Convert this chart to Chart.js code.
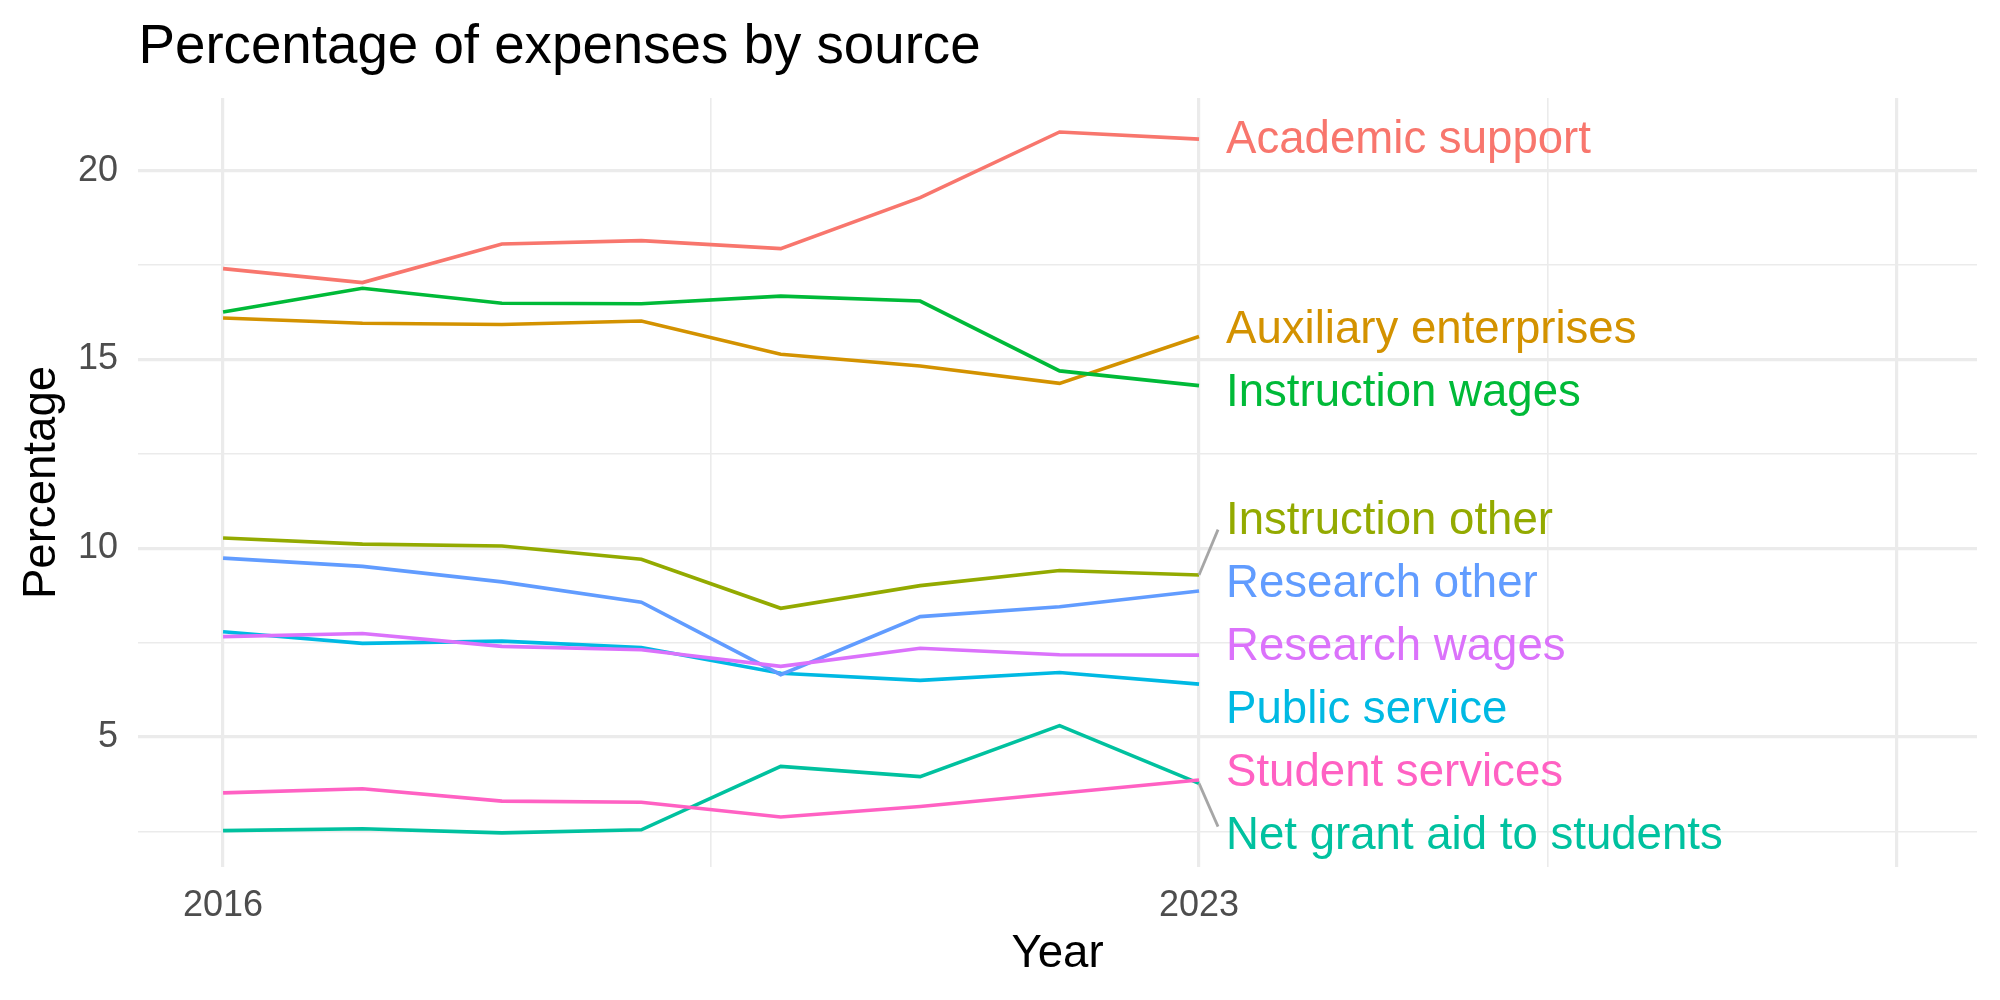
<!DOCTYPE html>
<html>
<head>
<meta charset="utf-8">
<title>Percentage of expenses by source</title>
<script src="https://cdn.jsdelivr.net/npm/chart.js@4.4.1/dist/chart.umd.min.js"></script>
<style>
  html, body { margin: 0; padding: 0; background: #ffffff; }
  #wrap { width: 2000px; height: 1000px; }
</style>
</head>
<body>
<div id="wrap"><canvas id="expenseChart" width="2000" height="1000"></canvas></div>
<script>
// Data
const years = [2016, 2017, 2018, 2019, 2020, 2021, 2022, 2023];

const categories = [
    'Academic support',
    'Auxiliary enterprises',
    'Instruction other',
    'Instruction wages',
    'Net grant aid to students',
    'Public service',
    'Research other',
    'Research wages',
    'Student services'
];

const academicSupport      = [17.41, 17.04, 18.06, 18.15, 17.94, 19.29, 21.03, 20.84];
const auxiliaryEnterprises = [16.10, 15.96, 15.93, 16.02, 15.14, 14.83, 14.37, 15.61];
const instructionOther     = [10.27, 10.11, 10.06, 9.71, 8.41, 9.01, 9.41, 9.29];
const instructionWages     = [16.26, 16.89, 16.49, 16.48, 16.68, 16.55, 14.70, 14.31];
const netGrantAid          = [2.52, 2.57, 2.46, 2.54, 4.22, 3.95, 5.30, 3.77];
const publicService        = [7.79, 7.48, 7.54, 7.37, 6.69, 6.50, 6.71, 6.40];
const researchOther        = [9.74, 9.52, 9.11, 8.57, 6.65, 8.19, 8.45, 8.87];
const researchWages        = [7.66, 7.74, 7.40, 7.31, 6.87, 7.35, 7.18, 7.17];
const studentServices      = [3.52, 3.63, 3.30, 3.27, 2.88, 3.16, 3.51, 3.86];

// Axis breaks (major + minor) and their tick labels
const xTickValues = [2016, 2019.5, 2023, 2025.5, 2028];
const xTickLabels = ['2016', '', '2023', '', ''];
const xMajorTicks = [2016, 2023, 2028];
const yTickValues = [2.5, 5, 7.5, 10, 12.5, 15, 17.5, 20];
const yTickLabels = ['', '5', '', '10', '', '15', '', '20'];

// ggplot default hue palette, in category order
const palette = ['#F8766D', '#D39200', '#93AA00', '#00BA38', '#00C19F',
                 '#00B9E3', '#619CFF', '#DB72FB', '#FF61C3'];

const seriesValues = [academicSupport, auxiliaryEnterprises, instructionOther,
    instructionWages, netGrantAid, publicService, researchOther,
    researchWages, studentServices];

const FONT = '"Liberation Sans", Arial, Helvetica, sans-serif';
const GRID = '#EBEBEB';
const LABEL_GAP = 63;     // min vertical distance between end labels (px)
const LABEL_OFFSET = 27;  // px from last point to label text

Chart.defaults.font.family = FONT;

// Push overlapping end labels apart, keeping each group centred on its points
function spreadLabels(targets, gap) {
    const order = targets.map((y, i) => i).sort((a, b) => targets[a] - targets[b]);
    let groups = order.map(i => ({ members: [i] }));
    const place = g => {
        const mean = g.members.reduce((s, i) => s + targets[i], 0) / g.members.length;
        g.start = mean - (g.members.length - 1) * gap / 2;
        g.end = g.start + (g.members.length - 1) * gap;
    };
    groups.forEach(place);
    let merged = true;
    while (merged) {
        merged = false;
        for (let k = 0; k < groups.length - 1; k++) {
            if (groups[k].end + gap > groups[k + 1].start) {
                groups[k].members = groups[k].members.concat(groups[k + 1].members);
                groups.splice(k + 1, 1);
                place(groups[k]);
                merged = true;
                break;
            }
        }
    }
    const result = new Array(targets.length);
    groups.forEach(g => g.members.forEach((i, k) => { result[i] = g.start + k * gap; }));
    return result;
}

// Draws the title, axis titles and the direct labels at the line ends
const annotations = {
    id: 'annotations',
    afterDatasetsDraw(chart) {
        const ctx = chart.ctx;
        const area = chart.chartArea;
        const xScale = chart.scales.x;
        const yScale = chart.scales.y;

        const lastX = xScale.getPixelForValue(years[years.length - 1]);
        const endY = chart.data.datasets.map(ds => yScale.getPixelForValue(ds.data[ds.data.length - 1].y));
        const labelY = spreadLabels(endY, LABEL_GAP);
        const textX = lastX + LABEL_OFFSET;

        ctx.save();
        // connector segments for labels pushed away from their point
        ctx.strokeStyle = '#A6A6A6';
        ctx.lineWidth = 2.8;
        endY.forEach((y, i) => {
            const d = labelY[i] - y;
            if (Math.abs(d) > 30) {
                ctx.beginPath();
                ctx.moveTo(lastX, y);
                ctx.lineTo(textX - 8, labelY[i] - Math.sign(d) * 9);
                ctx.stroke();
            }
        });

        ctx.font = '45.6px ' + FONT;
        ctx.textAlign = 'left';
        ctx.textBaseline = 'middle';
        chart.data.datasets.forEach((ds, i) => {
            ctx.fillStyle = ds.borderColor;
            ctx.fillText(ds.label, textX, labelY[i] + 1);
        });

        // plot title
        ctx.fillStyle = '#000000';
        ctx.textBaseline = 'alphabetic';
        ctx.font = '54.7px ' + FONT;
        ctx.fillText('Percentage of expenses by source', area.left + 0.5, 62.7);

        // axis titles
        ctx.font = '45.6px ' + FONT;
        ctx.textAlign = 'center';
        ctx.fillText('Year', (area.left + area.right) / 2, 967);

        ctx.translate(55, (area.top + area.bottom) / 2);
        ctx.rotate(-Math.PI / 2);
        ctx.fillText('Percentage', 0, 0);
        ctx.restore();
    }
};

const datasets = categories.map((name, i) => ({
    label: name,
    data: years.map((yr, j) => ({ x: yr, y: seriesValues[i][j] })),
    borderColor: palette[i],
    backgroundColor: palette[i],
    borderWidth: 3.6,
    pointRadius: 0,
    tension: 0,
    fill: false,
    order: -i
}));

const config = {
    type: 'line',
    data: { datasets: datasets },
    options: {
        responsive: false,
        animation: false,
        devicePixelRatio: 1,
        layout: {
            padding: { top: 98, right: 23, bottom: 0, left: 0 }
        },
        plugins: {
            legend: { display: false },
            title: { display: false },
            tooltip: { enabled: false }
        },
        scales: {
            x: {
                type: 'linear',
                min: 2015.39,
                max: 2028.58,
                afterBuildTicks: (scale) => {
                    scale.ticks = xTickValues.map(v => ({ value: v }));
                },
                afterFit: (scale) => { scale.height = 133; },
                border: { display: false },
                grid: {
                    color: GRID,
                    drawTicks: false,
                    lineWidth: (c) => (c.tick && xMajorTicks.includes(c.tick.value)) ? 3.2 : 1.6
                },
                ticks: {
                    autoSkip: false,
                    maxRotation: 0,
                    padding: 17,
                    color: '#4D4D4D',
                    font: { size: 36 },
                    callback: (value) => xTickLabels[xTickValues.indexOf(value)]
                }
            },
            y: {
                min: 1.555,
                max: 21.93,
                afterBuildTicks: (scale) => {
                    scale.ticks = yTickValues.map(v => ({ value: v }));
                },
                afterFit: (scale) => { scale.width = 138; },
                border: { display: false },
                grid: {
                    color: GRID,
                    drawTicks: false,
                    lineWidth: (c) => (c.tick && c.tick.value % 5 === 0) ? 3.2 : 1.6
                },
                ticks: {
                    autoSkip: false,
                    padding: 20,
                    color: '#4D4D4D',
                    font: { size: 36 },
                    callback: (value) => yTickLabels[yTickValues.indexOf(value)]
                }
            }
        }
    },
    plugins: [annotations]
};

new Chart(document.getElementById('expenseChart').getContext('2d'), config);
</script>
</body>
</html>
